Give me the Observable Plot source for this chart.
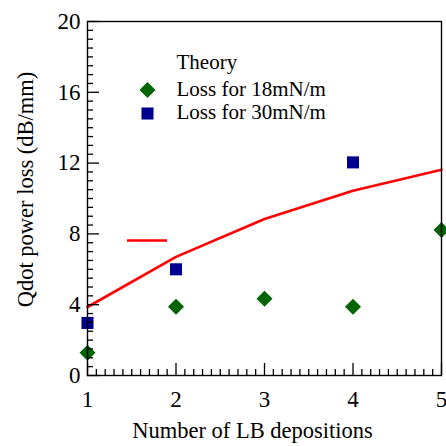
<!DOCTYPE html>
<html>
<head>
<meta charset="utf-8">
<script src="https://cdn.jsdelivr.net/npm/d3@7"></script>
<script src="https://cdn.jsdelivr.net/npm/@observablehq/plot@0.6"></script>
<style>
  html, body { margin: 0; padding: 0; background: #fff; }
</style>
</head>
<body>
<div id="chart"></div>
<script>
// ---- data ----
const depositions = [1, 2, 3, 4, 5];
const theory = [3.87, 6.7, 8.84, 10.44, 11.63];
const loss18 = [1.28, 3.88, 4.33, 3.89, 8.22];
const depositions30 = [1, 2, 4];
const loss30 = [2.97, 6.0, 12.04];
const xTickLabels = [1, 2, 3, 4, 5];
const yTickLabels = [0, 4, 8, 12, 16, 20];
const legendLabels = ["Theory", "Loss for 18mN/m", "Loss for 30mN/m"];
const xLabel = "Number of LB depositions";
const yLabel = "Qdot power loss (dB/mm)";

// ---- derived tables ----
const theoryData = depositions.map((x, i) => ({x, y: theory[i]}));
const loss18Data = depositions.map((x, i) => ({x, y: loss18[i]}));
const loss30Data = depositions30.map((x, i) => ({x, y: loss30[i]}));
const xMinor = d3.range(10, 51).map(d => d / 10).filter(d => !Number.isInteger(d));
const yMinor = d3.range(0, 41).map(d => d / 2).filter(d => !yTickLabels.includes(d));

// ---- style ----
const font = "Liberation Serif";
const RED = "#ff0000", GREEN = "#006400", BLUE = "#000090";
const legendRowDy = [42, 68.6, 92];

const chart = Plot.plot({
  width: 446,
  height: 446,
  marginLeft: 87,
  marginRight: 5,
  marginTop: 21,
  marginBottom: 71,
  style: {fontFamily: font},
  x: {domain: [1, 5]},
  y: {domain: [0, 20]},
  marks: [
    Plot.line(theoryData, {x: "x", y: "y", stroke: RED, strokeWidth: 2.6}),
    Plot.dot(loss18Data, {x: "x", y: "y", symbol: "diamond2", r: 7.2, fill: GREEN}),
    Plot.dot(loss30Data, {x: "x", y: "y", symbol: "square", r: 6.8, fill: BLUE}),
    Plot.frame({stroke: "black", strokeWidth: 1.4}),
    // inward ticks via the axis marks (negative tick size points into the frame)
    Plot.axisY(yMinor, {tickSize: -6, tickFormat: () => "", stroke: "black", strokeWidth: 1.3, label: null}),
    Plot.axisX(xMinor, {tickSize: -6, tickFormat: () => "", stroke: "black", strokeWidth: 1.3, label: null}),
    Plot.axisY(yTickLabels, {tickSize: -12, tickPadding: 19, fontSize: 23, fontFamily: font,
      stroke: "black", strokeWidth: 1.3, label: null}),
    Plot.axisX(xTickLabels, {tickSize: -12, tickPadding: 27, fontSize: 23, fontFamily: font,
      stroke: "black", strokeWidth: 1.3, label: null}),
    Plot.text([xLabel], {frameAnchor: "bottom", textAnchor: "middle", lineAnchor: "middle", dx: -12, dy: 55,
      fontSize: 22.5, fontFamily: font, fill: "black", text: d => d}),
    Plot.text([yLabel], {frameAnchor: "left", textAnchor: "middle", lineAnchor: "middle", rotate: -90, dx: -62, dy: -9,
      fontSize: 22.5, fontFamily: font, fill: "black", text: d => d}),
    // legend
    Plot.ruleY([legendLabels[0]], {frameAnchor: "top-left", y: null, dy: legendRowDy[0],
      insetLeft: 40, insetRight: 446 - 87 - 5 - 80, stroke: RED, strokeWidth: 2.6}),
    Plot.dot([legendLabels[1]], {frameAnchor: "top-left", dx: 60, dy: legendRowDy[1], symbol: "diamond2", r: 7.2, fill: GREEN}),
    Plot.dot([legendLabels[2]], {frameAnchor: "top-left", dx: 60, dy: legendRowDy[2], symbol: "square", r: 6.8, fill: BLUE}),
    ...legendLabels.map((t, i) => Plot.text([t], {frameAnchor: "top-left", dx: 89, dy: legendRowDy[i] - 1,
      text: d => d, textAnchor: "start", lineAnchor: "middle", fontSize: 21, fontFamily: font, fill: "black"}))
  ]
});
document.getElementById("chart").appendChild(chart);
</script>
</body>
</html>
